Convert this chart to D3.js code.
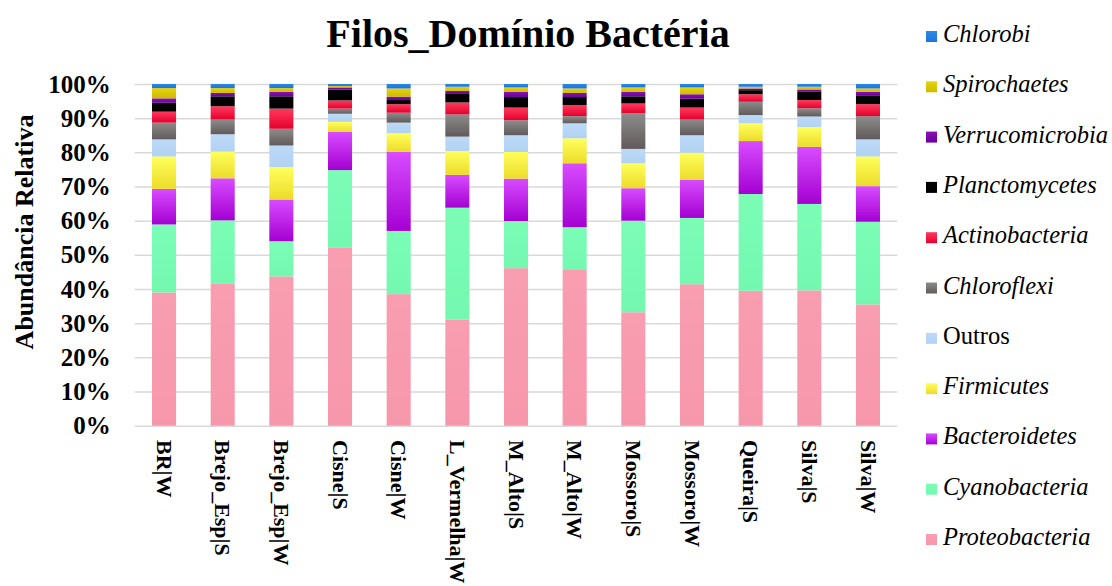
<!DOCTYPE html>
<html>
<head>
<meta charset="utf-8">
<script src="https://cdn.jsdelivr.net/npm/d3@7"></script>
<style>
  html, body { margin: 0; padding: 0; background: #ffffff; }
  svg { display: block; }
</style>
</head>
<body>
<svg id="chart" width="1112" height="586"></svg>
<script>
// Sampling sites (season S / W)
const categories = ["BR|W", "Brejo_Esp|S", "Brejo_Esp|W", "Cisne|S", "Cisne|W", "L_Vermelha|W",
  "M_Alto|S", "M_Alto|W", "Mossoro|S", "Mossoro|W", "Queira|S", "Silva|S", "Silva|W"];

// Relative abundance (%) per phylum, stacked from bottom to top
const proteobacteria  = [39.0, 41.5, 43.7, 52.2, 38.5, 31.1, 46.1, 45.8, 33.2, 41.4, 39.5, 39.6, 35.5];
const cyanobacteria   = [19.9, 18.6, 10.3, 22.6, 18.5, 32.7, 13.8, 12.3, 26.8, 19.4, 28.3, 25.3, 24.2];
const bacteroidetes   = [10.4, 12.3, 12.2, 11.2, 23.2,  9.6, 12.4, 18.7,  9.5, 11.2, 15.5, 16.7, 10.4];
const firmicutes      = [ 9.5,  7.8,  9.5,  2.9,  5.4,  7.0,  7.8,  7.3,  7.3,  7.9,  5.2,  5.8,  8.7];
const outros          = [ 5.0,  5.1,  6.3,  2.4,  3.1,  4.2,  4.9,  4.4,  4.2,  5.1,  2.4,  3.1,  5.0];
const chloroflexi     = [ 4.9,  4.3,  4.9,  1.5,  2.9,  6.5,  4.4,  2.1, 10.4,  4.6,  3.9,  2.4,  6.8];
const actinobacteria  = [ 3.2,  3.9,  5.9,  2.4,  2.5,  3.5,  3.7,  3.2,  2.9,  3.5,  2.2,  2.4,  3.5];
const planctomycetes  = [ 2.6,  2.9,  3.6,  3.2,  1.2,  2.7,  3.1,  2.4,  2.1,  2.6,  1.2,  2.4,  2.6];
const verrucomicrobia = [ 1.3,  1.0,  1.3,  0.6,  1.0,  0.7,  1.5,  1.2,  1.3,  1.3,  0.5,  0.7,  1.0];
const spirochaetes    = [ 3.0,  1.4,  1.1,  0.4,  2.4,  1.2,  1.3,  1.3,  1.3,  2.0,  0.5,  0.8,  1.0];
const chlorobi        = [ 1.2,  1.2,  1.2,  0.6,  1.3,  0.8,  1.0,  1.3,  1.0,  1.0,  0.8,  0.8,  1.3];

const seriesNames = ["Proteobacteria", "Cyanobacteria", "Bacteroidetes", "Firmicutes", "Outros",
  "Chloroflexi", "Actinobacteria", "Planctomycetes", "Verrucomicrobia", "Spirochaetes", "Chlorobi"];
const seriesValues = [proteobacteria, cyanobacteria, bacteroidetes, firmicutes, outros,
  chloroflexi, actinobacteria, planctomycetes, verrucomicrobia, spirochaetes, chlorobi];

const yTicks = [0, 10, 20, 30, 40, 50, 60, 70, 80, 90, 100];

// Fill of each phylum: [top colour, bottom colour]
const fills = {
  Proteobacteria:  ["#f99db0", "#f797ab"],
  Cyanobacteria:   ["#7bfdb6", "#74f8b0"],
  Bacteroidetes:   ["#d84cff", "#a400d2"],
  Firmicutes:      ["#ffff5c", "#ecdc2a"],
  Outros:          ["#bcdaf8", "#b2d2f2"],
  Chloroflexi:     ["#8c8c8c", "#625a5a"],
  Actinobacteria:  ["#ff3a5c", "#e4002e"],
  Planctomycetes:  ["#050505", "#000000"],
  Verrucomicrobia: ["#8a10b8", "#6c0098"],
  Spirochaetes:    ["#e6d40c", "#cdbb00"],
  Chlorobi:        ["#2a8ae8", "#1c74d8"]
};
const italicNames = new Set(seriesNames.filter(n => n !== "Outros"));

const svg = d3.select("#chart");
const serif = "'Liberation Serif', 'Times New Roman', serif";

const plot = { left: 134.7, right: 897.3, top: 84, bottom: 425.7 };

const x = d3.scaleBand()
  .domain(categories)
  .range([plot.left, plot.right])
  .paddingInner(0.59)
  .paddingOuter(0.295);

const y = d3.scaleLinear().domain([0, 100]).range([plot.bottom, plot.top]);

// Gradient definitions
const defs = svg.append("defs");
seriesNames.forEach((name, i) => {
  const g = defs.append("linearGradient")
    .attr("id", "grad" + i)
    .attr("x1", 0).attr("y1", 0).attr("x2", 0).attr("y2", 1);
  g.append("stop").attr("offset", "0%").attr("stop-color", fills[name][0]);
  g.append("stop").attr("offset", "100%").attr("stop-color", fills[name][1]);
});

// Gridlines and y tick labels
const yAxis = d3.axisLeft(y)
  .tickValues(yTicks)
  .tickSize(-(plot.right - plot.left))
  .tickPadding(24)
  .tickFormat(d => d + "%");

const yG = svg.append("g")
  .attr("transform", `translate(${plot.left},0)`)
  .call(yAxis);
yG.select(".domain").remove();
yG.selectAll(".tick line")
  .attr("stroke", "#d9d9d9")
  .attr("stroke-width", 1.5);
yG.selectAll(".tick text")
  .attr("fill", "#000")
  .style("font-family", serif)
  .style("font-weight", "bold")
  .style("font-size", "25px");

// Stacked bars
const table = categories.map((c, j) => {
  const row = { category: c };
  seriesNames.forEach((n, i) => { row[n] = seriesValues[i][j]; });
  return row;
});
const stacked = d3.stack().keys(seriesNames)(table);

svg.append("g").selectAll("g")
  .data(stacked)
  .join("g")
  .attr("fill", (d, i) => `url(#grad${i})`)
  .selectAll("rect")
  .data(d => d)
  .join("rect")
  .attr("x", d => x(d.data.category))
  .attr("width", x.bandwidth())
  .attr("y", d => y(d[1]))
  .attr("height", d => y(d[0]) - y(d[1]));

// Category labels, rotated to read downward
svg.append("g").selectAll("text")
  .data(categories)
  .join("text")
  .attr("transform", d => `translate(${x(d) + x.bandwidth() / 2},440) rotate(90)`)
  .attr("dy", "0.33em")
  .attr("text-anchor", "start")
  .style("font-family", serif)
  .style("font-weight", "bold")
  .style("font-size", "22px")
  .text(d => d);

// Y axis title
svg.append("text")
  .attr("transform", "translate(33,232) rotate(-90)")
  .attr("text-anchor", "middle")
  .style("font-family", serif)
  .style("font-weight", "bold")
  .style("font-size", "26px")
  .text("Abundância Relativa");

// Chart title
svg.append("text")
  .attr("x", 528)
  .attr("y", 47)
  .attr("text-anchor", "middle")
  .style("font-family", serif)
  .style("font-weight", "bold")
  .style("font-size", "40px")
  .text("Filos_Domínio Bactéria");

// Legend, top to bottom in reverse stacking order
const legendNames = seriesNames.slice().reverse();
const legend = svg.append("g").selectAll("g")
  .data(legendNames)
  .join("g")
  .attr("transform", (d, i) => `translate(926,${42 + i * 50.3})`);

legend.append("rect")
  .attr("x", 0)
  .attr("y", -11)
  .attr("width", 11)
  .attr("height", 11)
  .attr("fill", d => `url(#grad${seriesNames.indexOf(d)})`);

legend.append("text")
  .attr("x", 17)
  .attr("y", 0)
  .style("font-family", serif)
  .style("font-style", d => italicNames.has(d) ? "italic" : "normal")
  .style("font-size", "24.5px")
  .text(d => d);
</script>
</body>
</html>
